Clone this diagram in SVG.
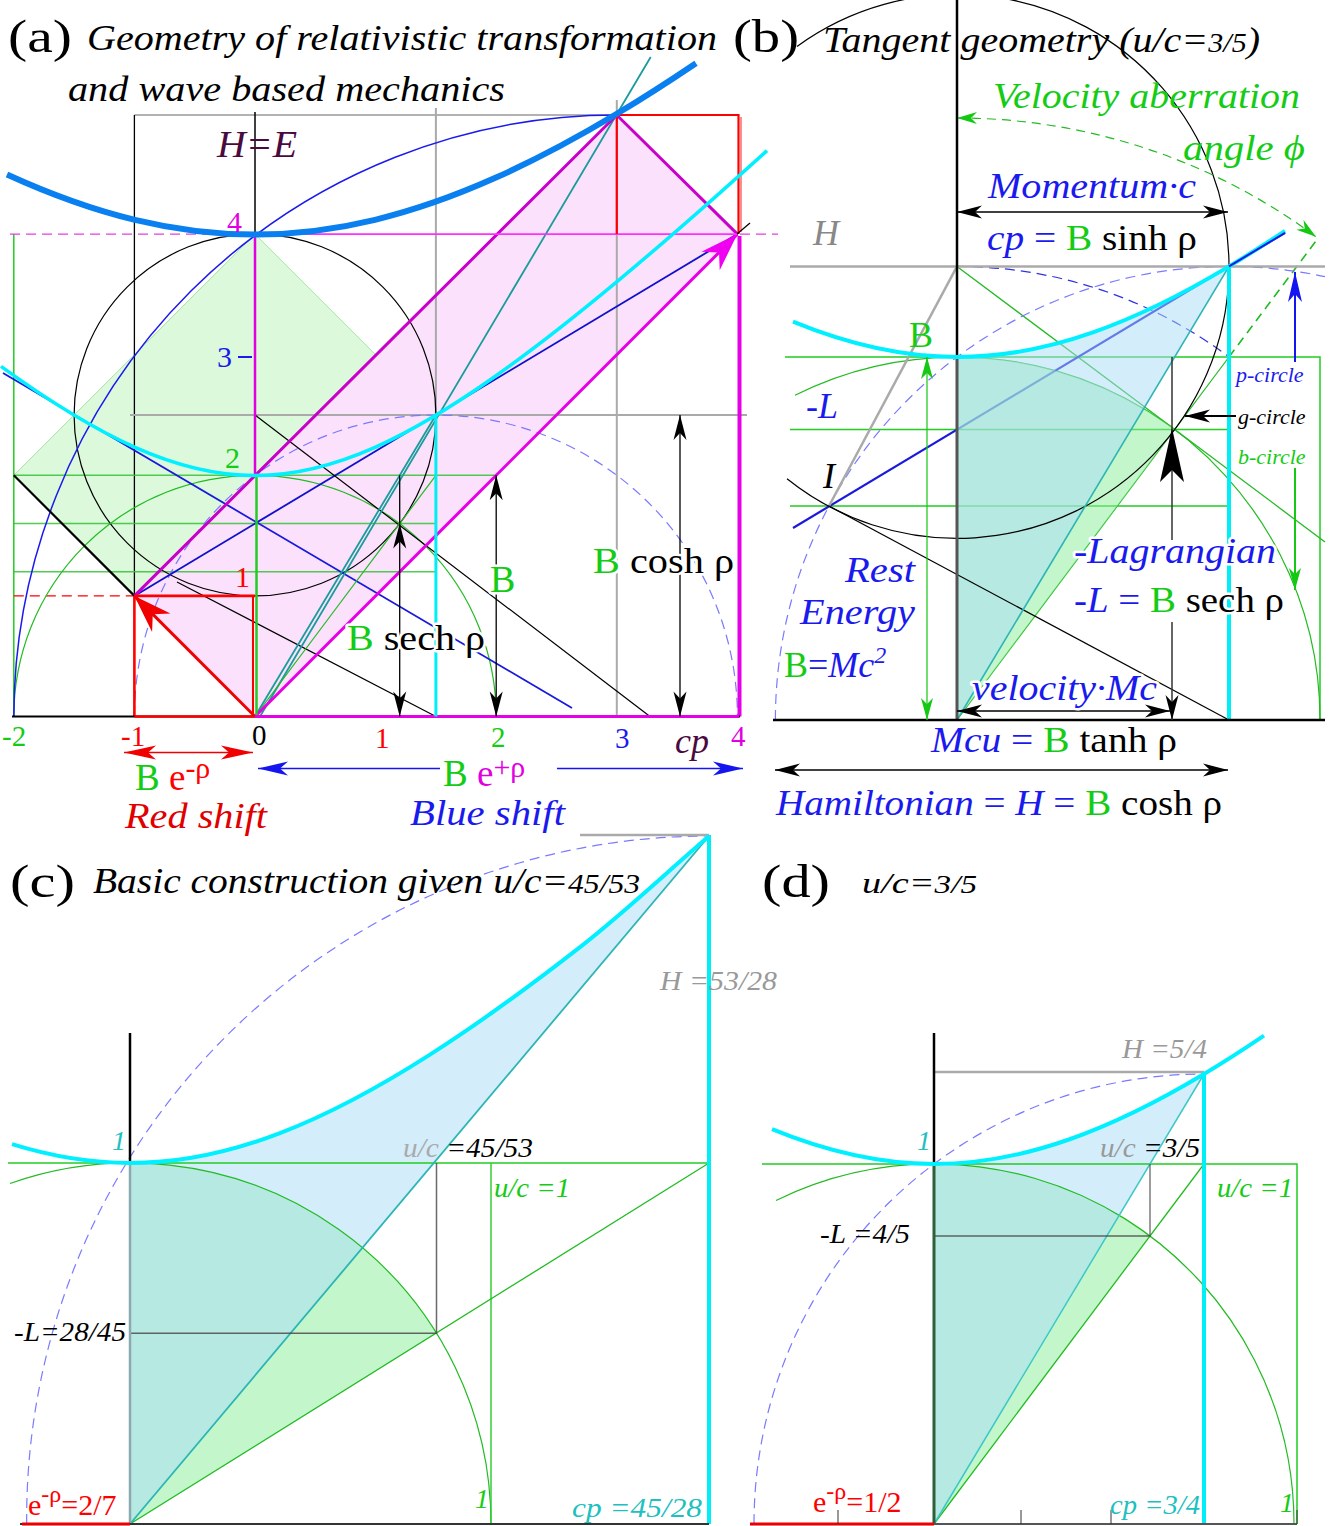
<svg xmlns="http://www.w3.org/2000/svg" width="1331" height="1526" viewBox="0 0 1331 1526">
<defs>
<style>
text{font-family:"Liberation Serif","Times New Roman",serif}
.i{font-style:italic}
.h{paint-order:stroke;stroke:#fff;stroke-width:5;stroke-linejoin:round}
.gr{fill:#14cc14}
.bu{fill:#1a1aee}
.no{fill:none}
</style>
<marker id="mk" viewBox="-26 -8 28 16" refX="0" refY="0" markerWidth="28" markerHeight="16" markerUnits="userSpaceOnUse" orient="auto-start-reverse"><path d="M0,0 L-25,-6.5 L-18,0 L-25,6.5 Z" fill="#000"/></marker>
<marker id="mg" viewBox="-26 -8 28 16" refX="0" refY="0" markerWidth="28" markerHeight="16" markerUnits="userSpaceOnUse" orient="auto-start-reverse"><path d="M0,0 L-22,-6 L-16,0 L-22,6 Z" fill="#14c814"/></marker>
<marker id="mb" viewBox="-32 -9 34 18" refX="0" refY="0" markerWidth="34" markerHeight="18" markerUnits="userSpaceOnUse" orient="auto-start-reverse"><path d="M0,0 L-30,-7 L-22,0 L-30,7 Z" fill="#1515f0"/></marker>
<marker id="mr" viewBox="-36 -9 38 18" refX="0" refY="0" markerWidth="38" markerHeight="18" markerUnits="userSpaceOnUse" orient="auto-start-reverse"><path d="M0,0 L-32,-7 L-24,0 L-32,7 Z" fill="#f00000"/></marker>
<marker id="mrb" viewBox="-42 -15 44 30" refX="0" refY="0" markerWidth="44" markerHeight="30" markerUnits="userSpaceOnUse" orient="auto"><path d="M0,0 L-38,-13 L-26,0 L-38,13 Z" fill="#f00000"/></marker>
<marker id="mmb" viewBox="-42 -15 44 30" refX="0" refY="0" markerWidth="44" markerHeight="30" markerUnits="userSpaceOnUse" orient="auto"><path d="M0,0 L-38,-13 L-26,0 L-38,13 Z" fill="#f000f0"/></marker>
<marker id="mgs" viewBox="-22 -8 24 16" refX="0" refY="0" markerWidth="24" markerHeight="16" markerUnits="userSpaceOnUse" orient="auto-start-reverse"><path d="M0,0 L-20,-6 L-14,0 L-20,6 Z" fill="#14c814"/></marker>
</defs>
<rect width="1331" height="1526" fill="#fff"/>

<!-- ================= PANEL A ================= -->
<g id="panel-a">
<g id="a-fills">
<polygon points="255,234.1 13.8,475.3 255,716.5 496.2,475.3" fill="#dcf9dc" stroke="#a6e6a6" stroke-width="1"/>
<polygon points="134.4,595.9 616.8,115 737.4,234.1 255,716.5" fill="#fbe1fb"/>
</g>
<g id="a-lines" fill="none">
<path d="M134.4,115 H617" stroke="#999" stroke-width="1.5"/>
<path d="M134.4,115 V595.9" stroke="#000" stroke-width="1.3"/>
<path d="M435.9,108 V415 M616.8,100 V716.5 M130,415 H747" stroke="#aaa" stroke-width="2"/>
<path d="M255,112 V234.1" stroke="#000" stroke-width="1.5"/>
<path d="M13.8,234.1 V716.5" stroke="#22cc22" stroke-width="1.5"/>
<path d="M13.8,475.3 H496.2 M13.8,523.5 H435.9 M13.8,571.8 H435.9" stroke="#33c433" stroke-width="1.5" stroke-opacity="0.85"/>
<path d="M10,234.1 H255 M740,234.1 H778" stroke="#e040e0" stroke-width="1.2" stroke-dasharray="10,6"/>
<path d="M13.8,595.9 H134.4" stroke="#f00" stroke-width="1.2" stroke-dasharray="10,6"/>
<circle cx="255" cy="415" r="180.9" stroke="#000" stroke-width="1.2"/>
<path d="M13.8,716.5 A241.2,241.2 0 0 1 496.2,716.5" stroke="#22bb22" stroke-width="1.2"/>
<path d="M134.4,716.5 A301.5,301.5 0 0 1 737.4,716.5" stroke="#7a7aff" stroke-width="1.2" stroke-dasharray="10,6"/>
<path d="M13.8,716.5 A603,603 0 0 1 616.8,115" stroke="#1a1aee" stroke-width="1.5"/>
<path d="M134.4,595.9 L737.4,234.1" stroke="#1010cc" stroke-width="1.8"/>
<path d="M3,373 L572,708" stroke="#1a1add" stroke-width="1.8"/>
<path d="M13.8,475.3 L134.4,595.9" stroke="#000" stroke-width="2.2"/>
<path d="M177,582 L435.9,716.5 M255,415 L650,716.5" stroke="#000" stroke-width="1.2"/>
<path d="M255,716.5 L435.9,415 M260,716.5 L650.7,57" stroke="#1a9c9c" stroke-width="1.8"/>
<path d="M255,716.5 L435.9,475.3" stroke="#22bb22" stroke-width="1.2"/>
<path d="M255,716.5 L134.4,595.9" stroke="#f00000" stroke-width="3" marker-end="url(#mrb)"/>
<path d="M255,716.5 L737.4,234.1" stroke="#e600e6" stroke-width="3" marker-end="url(#mmb)"/>
<path d="M134.4,595.9 L616.8,115 L737.4,234.1" stroke="#c800c8" stroke-width="3"/>
<path d="M255,234.1 H737.4" stroke="#ff30ff" stroke-width="1.6"/>
<path d="M255,234.1 V475.3" stroke="#e000e0" stroke-width="2.5"/>
<path d="M256.5,475.3 V716.5" stroke="#22cc22" stroke-width="2.5"/>
<path d="M253,595.9 V716.5" stroke="#f00" stroke-width="2"/>
<path d="M616.8,234.1 V115 H738.5 V234.1" stroke="#f00" stroke-width="2.2"/>
<path d="M741,117 V232" stroke="#f44" stroke-width="1.2"/>
<path d="M134.4,595.9 H255 M134.4,595.9 V716.5" stroke="#f00" stroke-width="2.6"/>
<path d="M739.5,236 V716.5" stroke="#e600e6" stroke-width="4"/>
<path d="M737,234 L750,223" stroke="#000" stroke-width="1.2"/>
<path d="M12,716.5 H740" stroke="#000" stroke-width="2"/>
<path d="M255,716.5 H739" stroke="#e600e6" stroke-width="3"/>
<path d="M134.4,716.5 H255" stroke="#f00" stroke-width="2.6"/>
<path d="M435.9,415 V716.5" stroke="#00eef5" stroke-width="3"/>
<path transform="translate(-3,0.5)" d="M4,365.9 C48.7,398.3 93.3,426.9 138,446.8 C178,464.6 218,475 258,475 C298,475 338,464.6 378,446.8 C418.3,428.8 458.7,403.7 499,375.2 C539.3,346.7 579.7,314.7 620,281.1 C670,239.5 720,195.3 770,150.1" stroke="#00f0ff" stroke-width="3.5"/>
<path transform="translate(-3,0.5)" d="M10,173.9 C52.7,193.4 95.3,209 138,219.3 C178,229 218,234 258,234 C298,234 338,229 378,219.3 C418.3,209.6 458.7,195.1 499,177.1 C539,159.2 579,137.8 619,113.8 C645.7,97.8 672.3,80.7 699,62.7" stroke="#0a80f0" stroke-width="6"/>
<path d="M238,357 H252" stroke="#1a1aee" stroke-width="2"/>
</g>
<g id="a-arrows" fill="none" stroke="#000" stroke-width="1.3">
<path d="M399.7,475.3 V523.5"/>
<path d="M399.7,523.5 V716.5" marker-start="url(#mk)" marker-end="url(#mk)"/>
<path d="M496.2,475.3 V716.5" marker-start="url(#mk)" marker-end="url(#mk)"/>
<path d="M680,415 V716.5" marker-start="url(#mk)" marker-end="url(#mk)"/>
<path d="M124,752.5 H253" stroke="#f00000" stroke-width="1.5" marker-start="url(#mr)" marker-end="url(#mr)"/>
<path d="M258,768.5 H440" stroke="#1515f0" stroke-width="1.3" marker-start="url(#mb)"/>
<path d="M557,768.5 H743" stroke="#1515f0" stroke-width="1.3" marker-end="url(#mb)"/>
</g>
<g id="a-labels">
<text x="8" y="52" font-size="46" textLength="64" lengthAdjust="spacingAndGlyphs">(a)</text>
<text x="87" y="50" font-size="35" class="i" textLength="630" lengthAdjust="spacingAndGlyphs">Geometry of relativistic transformation</text>
<text x="68" y="101" font-size="35" class="i" textLength="437" lengthAdjust="spacingAndGlyphs">and wave based mechanics</text>
<text x="217" y="157" font-size="38" class="i" fill="#4a0a40" textLength="80" lengthAdjust="spacingAndGlyphs">H=E</text>
<text x="227" y="232" font-size="30" fill="#e000e0">4</text>
<text x="217" y="367" font-size="30" fill="#1a1aee">3</text>
<text x="225" y="468" font-size="30" fill="#14cc14">2</text>
<text x="235" y="587" font-size="30" fill="#f00">1</text>
<text x="2" y="746" font-size="29" fill="#14cc14">-2</text>
<text x="121" y="746" font-size="29" fill="#f00">-1</text>
<text x="252" y="745" font-size="29">0</text>
<text x="375" y="748" font-size="29" fill="#f00">1</text>
<text x="491" y="747" font-size="29" fill="#14cc14">2</text>
<text x="615" y="748" font-size="29" fill="#1a1aee">3</text>
<text x="731" y="746" font-size="29" fill="#e000e0">4</text>
<text x="675" y="753" font-size="36" class="i" fill="#4a0a40">cp</text>
<text x="135" y="790" font-size="37"><tspan class="gr">B</tspan><tspan fill="#f00"> e</tspan><tspan fill="#f00" font-size="30" dy="-12">-ρ</tspan></text>
<text x="443" y="786" font-size="37"><tspan class="gr">B</tspan><tspan fill="#e000e0"> e</tspan><tspan fill="#e000e0" font-size="30" dy="-9">+ρ</tspan></text>
<text x="125" y="828" font-size="35" class="i" fill="#e00000" textLength="142" lengthAdjust="spacingAndGlyphs">Red shift</text>
<text x="410" y="825" font-size="35" class="i" fill="#1a1aee" textLength="155" lengthAdjust="spacingAndGlyphs">Blue shift</text>
<text x="347" y="650" font-size="36" class="h" textLength="138" lengthAdjust="spacingAndGlyphs"><tspan class="gr">B</tspan> sech ρ</text>
<text x="490" y="592" font-size="38" class="h gr">B</text>
<text x="593" y="573" font-size="36" class="h" textLength="141" lengthAdjust="spacingAndGlyphs"><tspan class="gr">B</tspan> cosh ρ</text>
</g>
</g>

<!-- ================= PANEL B ================= -->
<g id="panel-b">
<g id="b-under" fill="none">
<path d="M785,357 H1320 V720" stroke="#22cc22" stroke-width="1.5"/>
<path d="M790,429.6 H1229 M790,506 H1229" stroke="#22cc22" stroke-width="1.5"/>
<path d="M795,395.2 A363,363 0 0 1 1320,720" stroke="#22bb22" stroke-width="1.2"/>
<path d="M957,266.4 L1325,542" stroke="#22bb22" stroke-width="1.3"/>
<path d="M957,720 L1229,357" stroke="#22bb22" stroke-width="1.2"/>
<path d="M1229,357 L1316,241" stroke="#22bb22" stroke-width="1.6" stroke-dasharray="9,6"/>
<path d="M793,528 L1285,232.8" stroke="#1a1add" stroke-width="2.2"/>
<path d="M775.4,720 A453.6,453.6 0 0 1 1325,276.7" stroke="#7a7aff" stroke-width="1.2" stroke-dasharray="10,6"/>
<path d="M957,266.4 A453.6,453.6 0 0 1 1229,357" stroke="#3030e0" stroke-width="1.2" stroke-dasharray="10,6"/>
</g>
<g id="b-fills">
<path d="M957,720 L957,357 A363,363 0 0 1 1174.8,429.6 Z" fill="#8aee9a" fill-opacity="0.5"/>
<path d="M957,720 L957,357 C1002.3,357 1047.7,348.3 1093,332.4 C1138.3,316.5 1183.7,293.6 1229,266.4 Z" fill="#a8dcf5" fill-opacity="0.5"/>
</g>
<g id="b-lines" fill="none">
<path d="M790,266.4 H1325" stroke="#aaa" stroke-width="2.5"/>
<path d="M957,266.4 L829,506" stroke="#aaa" stroke-width="2.5"/>
<path d="M829,506 L1229,720" stroke="#000" stroke-width="1.2"/>
<path d="M797,46.4 A272,272 0 1 1 787,478.7" stroke="#000" stroke-width="1.2"/>
<path d="M957,720 L1229,266.4" stroke="#2bb5b5" stroke-width="1.6"/>
<path d="M957,118 A602,602 0 0 1 1316,236.8" stroke="#22bb22" stroke-width="1.2" stroke-dasharray="9,6" marker-start="url(#mgs)" marker-end="url(#mgs)"/>
<path d="M1229,266.4 V720" stroke="#00eef5" stroke-width="4"/>
<path d="M957,0 V357" stroke="#000" stroke-width="2.5"/>
<path d="M957,357 V720" stroke="#555" stroke-width="3"/>
<path d="M773,720 H1325" stroke="#000" stroke-width="2.5"/>
<path d="M793,321.7 C847.7,344.2 902.3,357 957,357 C1002.3,357 1047.7,348.3 1093,332.4 C1138.3,316.5 1183.7,293.6 1229,266.4 C1247.7,255.2 1266.3,243.3 1285,230.8" stroke="#00f0ff" stroke-width="4"/>
<path d="M1229,266.4 L1285,232.8" stroke="#1a1add" stroke-width="2"/>
</g>
<g id="b-arrows" fill="none" stroke="#000" stroke-width="1.3">
<path d="M957,212 H1228" marker-start="url(#mk)" marker-end="url(#mk)"/>
<path d="M957,711 H1170" marker-start="url(#mk)" marker-end="url(#mk)"/>
<path d="M775,770 H1228" marker-start="url(#mk)" marker-end="url(#mk)"/>
<path d="M927,357 V720" stroke="#14c814" stroke-width="1.2" marker-start="url(#mg)" marker-end="url(#mg)"/>
<path d="M1172,357 V540" stroke="#333" stroke-width="1.5"/>
<polygon points="1172,428 1160,482 1172,470 1184,482" fill="#000" stroke="none"/>
<path d="M1172,622 V720" stroke="#333" stroke-width="1.5" marker-end="url(#mk)"/>
<path d="M1295,362 V272" stroke="#1515f0" stroke-width="2" marker-end="url(#mb)"/>
<path d="M1236,416 H1185" marker-end="url(#mk)" stroke-width="2"/>
<path d="M1295,468 V590" stroke="#14c814" stroke-width="2" marker-end="url(#mg)"/>
</g>
<g id="b-labels">
<text x="733" y="52" font-size="46" textLength="66" lengthAdjust="spacingAndGlyphs">(b)</text>
<text x="823" y="52" font-size="36" class="i" textLength="437" lengthAdjust="spacingAndGlyphs">Tangent geometry (u/c=<tspan font-size="27">3/5</tspan>)</text>
<text x="993" y="108" font-size="36" class="i gr" textLength="307" lengthAdjust="spacingAndGlyphs">Velocity aberration</text>
<text x="1183" y="160" font-size="36" class="i gr" textLength="122" lengthAdjust="spacingAndGlyphs">angle ϕ</text>
<text x="988" y="198" font-size="36" class="i bu" textLength="208" lengthAdjust="spacingAndGlyphs">Momentum·c</text>
<text x="987" y="250" font-size="36" textLength="210" lengthAdjust="spacingAndGlyphs"><tspan class="i bu">cp</tspan><tspan class="bu"> = </tspan><tspan class="gr">B</tspan> sinh ρ</text>
<text x="813" y="245" font-size="36" class="i" fill="#888">H</text>
<text x="909" y="347" font-size="36" class="gr">B</text>
<text x="806" y="418" font-size="36" class="i bu">-L</text>
<text x="823" y="488" font-size="36" class="i">I</text>
<text x="1236" y="382" font-size="22" class="i bu">p-circle</text>
<text x="1238" y="424" font-size="22" class="i">g-circle</text>
<text x="1238" y="464" font-size="22" class="i gr">b-circle</text>
<text x="1074" y="563" font-size="36" class="i bu h" textLength="202" lengthAdjust="spacingAndGlyphs">-Lagrangian</text>
<text x="1074" y="612" font-size="36" class="h" textLength="210" lengthAdjust="spacingAndGlyphs"><tspan class="i bu">-L</tspan><tspan class="bu"> = </tspan><tspan class="gr">B</tspan> sech ρ</text>
<text x="845" y="582" font-size="36" class="i bu" textLength="70" lengthAdjust="spacingAndGlyphs">Rest</text>
<text x="800" y="624" font-size="36" class="i bu" textLength="115" lengthAdjust="spacingAndGlyphs">Energy</text>
<text x="784" y="677" font-size="36"><tspan class="gr">B</tspan><tspan class="bu">=</tspan><tspan class="i bu">Mc</tspan><tspan class="i bu" font-size="24" dy="-14">2</tspan></text>
<text x="972" y="700" font-size="36" class="i bu h" textLength="185" lengthAdjust="spacingAndGlyphs">velocity·Mc</text>
<text x="931" y="752" font-size="36" textLength="246" lengthAdjust="spacingAndGlyphs"><tspan class="i bu">Mcu</tspan><tspan class="bu"> = </tspan><tspan class="gr">B</tspan> tanh ρ</text>
<text x="776" y="815" font-size="36" textLength="446" lengthAdjust="spacingAndGlyphs"><tspan class="i bu">Hamiltonian</tspan><tspan class="bu"> = </tspan><tspan class="i bu">H</tspan><tspan class="bu"> = </tspan><tspan class="gr">B</tspan> cosh ρ</text>
</g>
</g>

<!-- ================= PANEL C ================= -->
<g id="panel-c">
<g id="c-fills">
<path d="M130,1524 L130,1163 A361,361 0 0 1 436.5,1333.3 Z" fill="#8aee9a" fill-opacity="0.5"/>
<path d="M130,1524 L130,1163 C180,1163 230,1152.3 280,1133.1 C330,1113.9 380,1086.6 430,1054.6 C480,1022.6 530,986.1 580,947.1 C623,913.6 666,873 709,836 Z" fill="#a8dcf5" fill-opacity="0.5"/>
</g>
<g id="c-lines" fill="none">
<path d="M8,1163 H709" stroke="#22cc22" stroke-width="1.5"/>
<path d="M10,1183.5 A361,361 0 0 1 491,1524" stroke="#22bb22" stroke-width="1.2"/>
<path d="M26.7,1524 A682.3,682.3 0 0 1 709,836" stroke="#7a7aff" stroke-width="1.2" stroke-dasharray="10,6"/>
<path d="M491,1163 V1524" stroke="#33cc33" stroke-width="1.5"/>
<path d="M130,1524 L709,1163" stroke="#22bb22" stroke-width="1.3"/>
<path d="M130,1524 L709,836" stroke="#2bb5b5" stroke-width="1.8"/>
<path d="M130,1333.3 H436.5 V1163" stroke="#444" stroke-width="1.5" stroke-opacity="0.8"/>
<path d="M580,835 H709" stroke="#aaa" stroke-width="2.5"/>
<path d="M709,835 V1524" stroke="#00eef5" stroke-width="4"/>
<path d="M130,1033 V1163" stroke="#000" stroke-width="2.5"/>
<path d="M130,1163 V1524" stroke="#8aaab0" stroke-width="2.5"/>
<path d="M20,1524 H709" stroke="#333" stroke-width="2"/>
<path d="M22,1524 H130" stroke="#e00" stroke-width="3"/>
<path d="M12,1144.2 C51.3,1156.4 90.7,1163 130,1163 C180,1163 230,1152.3 280,1133.1 C330,1113.9 380,1086.6 430,1054.6 C480,1022.6 530,986.1 580,947.1 C623,913.6 666,873 709,836" stroke="#00f0ff" stroke-width="4"/>
</g>
<g id="c-labels">
<text x="10" y="897" font-size="46" textLength="65" lengthAdjust="spacingAndGlyphs">(c)</text>
<text x="93" y="893" font-size="35" class="i" textLength="547" lengthAdjust="spacingAndGlyphs">Basic construction given u/c=<tspan font-size="28">45/53</tspan></text>
<text x="660" y="990" font-size="28" class="i" fill="#999" textLength="117" lengthAdjust="spacingAndGlyphs">H =53/28</text>
<text x="112" y="1150" font-size="28" class="i" fill="#20c0c0">1</text>
<text x="403" y="1157" font-size="28" class="i" textLength="130" lengthAdjust="spacingAndGlyphs"><tspan fill="#aaa">u/c </tspan>=45/53</text>
<text x="494" y="1197" font-size="28" class="i gr" textLength="76" lengthAdjust="spacingAndGlyphs">u/c =1</text>
<text x="14" y="1341" font-size="28" class="i" textLength="112" lengthAdjust="spacingAndGlyphs">-L=28/45</text>
<text x="28" y="1515" font-size="30" fill="#f00">e<tspan font-size="24" dy="-13">-ρ</tspan><tspan dy="13">=2/7</tspan></text>
<text x="475" y="1508" font-size="28" class="i gr">1</text>
<text x="572" y="1517" font-size="28" class="i" fill="#20c0c0" textLength="130" lengthAdjust="spacingAndGlyphs">cp =45/28</text>
</g>
</g>

<!-- ================= PANEL D ================= -->
<g id="panel-d">
<g id="d-fills">
<path d="M934,1524 L934,1164 A360,360 0 0 1 1150,1236 Z" fill="#8aee9a" fill-opacity="0.5"/>
<path d="M934,1524 L934,1164 C979,1164 1024,1155.3 1069,1139.5 C1114,1123.7 1159,1101 1204,1074 Z" fill="#a8dcf5" fill-opacity="0.5"/>
</g>
<g id="d-lines" fill="none">
<path d="M762,1164 H1297 V1524" stroke="#22cc22" stroke-width="1.5"/>
<path d="M776,1200.5 A360,360 0 0 1 1294,1524" stroke="#22bb22" stroke-width="1.2"/>
<path d="M754,1524 A450,450 0 0 1 1204,1074" stroke="#7a7aff" stroke-width="1.2" stroke-dasharray="10,6"/>
<path d="M934,1524 L1204,1164" stroke="#22bb22" stroke-width="1.3"/>
<path d="M934,1524 L1204,1074" stroke="#3cc8c8" stroke-width="1.5"/>
<path d="M934,1236 H1150 V1164" stroke="#444" stroke-width="1.3" stroke-opacity="0.8"/>
<path d="M934,1072 H1204" stroke="#aaa" stroke-width="2.5"/>
<path d="M1204,1072 V1524" stroke="#00eef5" stroke-width="4"/>
<path d="M934,1033 V1164" stroke="#000" stroke-width="2.5"/>
<path d="M934,1164 V1524" stroke="#2d5f3a" stroke-width="3"/>
<path d="M750,1524 H1297" stroke="#555" stroke-width="2"/>
<path d="M750,1524 H934" stroke="#e00" stroke-width="3"/>
<path d="M838,1510 V1524 M1021,1510 V1524 M1111,1510 V1524 M1297,1510 V1524" stroke="#333" stroke-width="1"/>
<path d="M772,1129.2 C826,1151.4 880,1164 934,1164 C979,1164 1024,1155.3 1069,1139.5 C1114,1123.7 1159,1101 1204,1074 C1224,1062 1244,1049.1 1264,1035.6" stroke="#00f0ff" stroke-width="4"/>
</g>
<g id="d-labels">
<text x="762" y="897" font-size="46" textLength="68" lengthAdjust="spacingAndGlyphs">(d)</text>
<text x="862" y="893" font-size="30" class="i" textLength="115" lengthAdjust="spacingAndGlyphs">u/c=<tspan font-size="26">3/5</tspan></text>
<text x="1122" y="1058" font-size="28" class="i" fill="#999" textLength="85" lengthAdjust="spacingAndGlyphs">H =5/4</text>
<text x="917" y="1150" font-size="28" class="i" fill="#20c0c0">1</text>
<text x="1100" y="1157" font-size="28" class="i" textLength="100" lengthAdjust="spacingAndGlyphs"><tspan fill="#999">u/c </tspan>=3/5</text>
<text x="1217" y="1197" font-size="28" class="i gr" textLength="76" lengthAdjust="spacingAndGlyphs">u/c =1</text>
<text x="820" y="1243" font-size="28" class="i" textLength="90" lengthAdjust="spacingAndGlyphs">-L =4/5</text>
<text x="813" y="1512" font-size="30" fill="#f00">e<tspan font-size="24" dy="-13">-ρ</tspan><tspan dy="13">=1/2</tspan></text>
<text x="1110" y="1514" font-size="28" class="i" fill="#20c0c0" textLength="90" lengthAdjust="spacingAndGlyphs">cp =3/4</text>
<text x="1280" y="1512" font-size="28" class="i gr">1</text>
</g>
</g>
</svg>
